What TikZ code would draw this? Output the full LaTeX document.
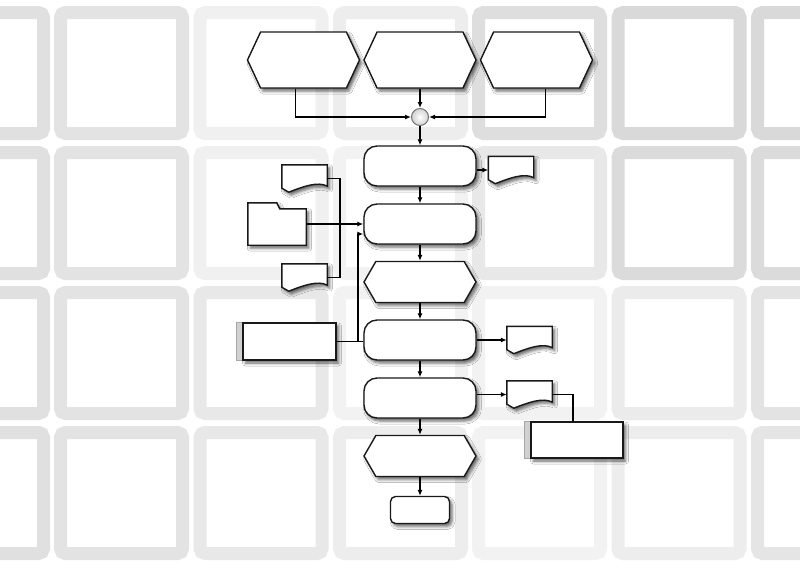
\documentclass[tikz,border=0pt]{standalone}
\usetikzlibrary{arrows.meta,positioning,shapes.symbols,shadows.blur}

\begin{document}
\begin{tikzpicture}[x=1pt,y=1pt,node distance=58pt,
  box/.style={draw=black!90,line width=1.4pt,fill=white,
    blur shadow={shadow xshift=2.5pt,shadow yshift=-3pt,
    shadow blur radius=3pt,shadow opacity=60}},
  prep/.style={box,signal,signal to=west and east,signal pointer angle=130,
    minimum width=112pt,minimum height=56pt,inner sep=0pt},
  prepsmall/.style={prep,signal pointer angle=120,minimum height=41pt},
  term/.style={box,rectangle,rounded corners=13pt,
    minimum width=112pt,minimum height=40pt},
  docu/.style={minimum width=45pt,minimum height=27pt,inner sep=0pt,
    append after command={\pgfextra{\edef\thisnode{\tikzlastnode}
      \draw[box] (\thisnode.north west) -- (\thisnode.north east)
        -- ([yshift=6pt]\thisnode.south east)
        .. controls +(-9pt,5pt) and +(15pt,6pt) .. ([xshift=7pt]\thisnode.south west)
        -- ([yshift=4pt]\thisnode.south west) -- cycle;}}},
  folder/.style={minimum width=58pt,minimum height=36pt,inner sep=0pt,
    append after command={\pgfextra{\edef\thisnode{\tikzlastnode}
      \draw[box] (\thisnode.south west) -- ([yshift=6pt]\thisnode.north west)
        -- ([xshift=29pt,yshift=6pt]\thisnode.north west)
        -- ([xshift=32pt]\thisnode.north west) -- (\thisnode.north east)
        -- (\thisnode.south east) -- cycle;}}},
  store/.style={box,rectangle,minimum width=93pt,minimum height=37pt,
    append after command={\pgfextra{\edef\thisnode{\tikzlastnode}
      \draw[fill=black!18,draw=black!35,line width=0.6pt]
        ([xshift=-6pt]\thisnode.north west) rectangle (\thisnode.south west);}}},
  mixer/.style={circle,minimum size=17pt,inner sep=0pt,draw=black!55,
    line width=1pt,inner color=white,outer color=black!18},
  flow/.style={-{Latex[length=6pt,width=5pt]},line width=1.4pt,black},
  line/.style={line width=1.4pt,black},
  frame/.style={line width=13pt,rounded corners=5pt}]

  \useasboundingbox (0,0) rectangle (800,-566);
  \fill[white] (0,0) rectangle (800,-566);

  % background tiles
  \begin{scope}
    \clip (0,0) rectangle (800,-566);
    \foreach \x/\sa/\sb/\sc/\sd in {-85/12/12/12/12, 54/11/11/11/11,
        193.5/6/6/9/9, 333/7/5/5/7, 472/13/9/5/5,
        611.5/15/14/8/7, 751/15/14/11/10}
      \foreach \y/\s in {6/\sa,146/\sb,286/\sc,426/\sd}
        \draw[frame,draw=black!\s] (\x+6.5,-\y-6.5) rectangle (\x+128.5,-\y-127.5);
  \end{scope}

  % main column
  \node[prep] (h2) at (420,-60) {};
  \node[prep] (h1) [left of=h2,node distance=116.5pt] {};
  \node[prep] (h3) [right of=h2,node distance=116.5pt] {};
  \node[mixer] (mix) at (420,-117) {};
  \node[term] (t1) [below of=mix,node distance=49pt] {};
  \node[term] (t2) [below of=t1] {};
  \node[prepsmall] (p1) [below of=t2] {};
  \node[term] (t3) [below of=p1] {};
  \node[term] (t4) [below of=t3] {};
  \node[prepsmall] (p2) [below of=t4] {};
  \node[box,rectangle,rounded corners=5pt,minimum width=59pt,minimum height=27pt]
    (t5) [below of=p2,node distance=54pt] {};

  % side documents and stores
  \node[docu] (dA) at (304.5,-178.5) {};
  \node[folder] (fold) at (277,-227) {};
  \node[docu] (dB) at (304.5,-277.5) {};
  \node[store] (s1) at (289.5,-341.5) {};
  \node[docu] (d1) at (511,-170) {};
  \node[docu] (d2) at (529.5,-340) {};
  \node[docu] (d3) at (529.5,-394.5) {};
  \node[store,minimum width=92pt,minimum height=36pt] (s2) at (577,-440) {};

  \coordinate (busL) at (340,-224);
  \coordinate (busR) at (358,-341.5);

  \draw[flow] ([xshift=-8pt]h1.south) |- (mix);
  \draw[flow] (h2) -- (mix);
  \draw[flow] ([xshift=9pt]h3.south) |- (mix);
  \draw[flow] (mix) -- (t1);
  \draw[flow] (t1.east |- d1.west) -- (d1.west);
  \draw[flow] (t1) -- (t2);
  \draw[line] (dA.east) -| (busL) |- (dB.east);
  \draw[flow] (fold.east |- t2.west) -- (t2.west);
  \draw[line] (s1.east) -- (s1.east -| t3.west);
  \draw[flow] (busR) |- ([yshift=-10pt]t2.west);
  \draw[flow] (t2) -- (p1);
  \draw[flow] (p1) -- (t3);
  \draw[flow] (t3.east |- d2.west) -- (d2.west);
  \draw[flow] (t3) -- (t4);
  \draw[flow] (t4.east |- d3.west) -- (d3.west);
  \draw[line] (d3.east) -| ([xshift=-4pt]s2.north);
  \draw[flow] (t4) -- (p2);
  \draw[flow] (p2) -- (t5);

\end{tikzpicture}
\end{document}
